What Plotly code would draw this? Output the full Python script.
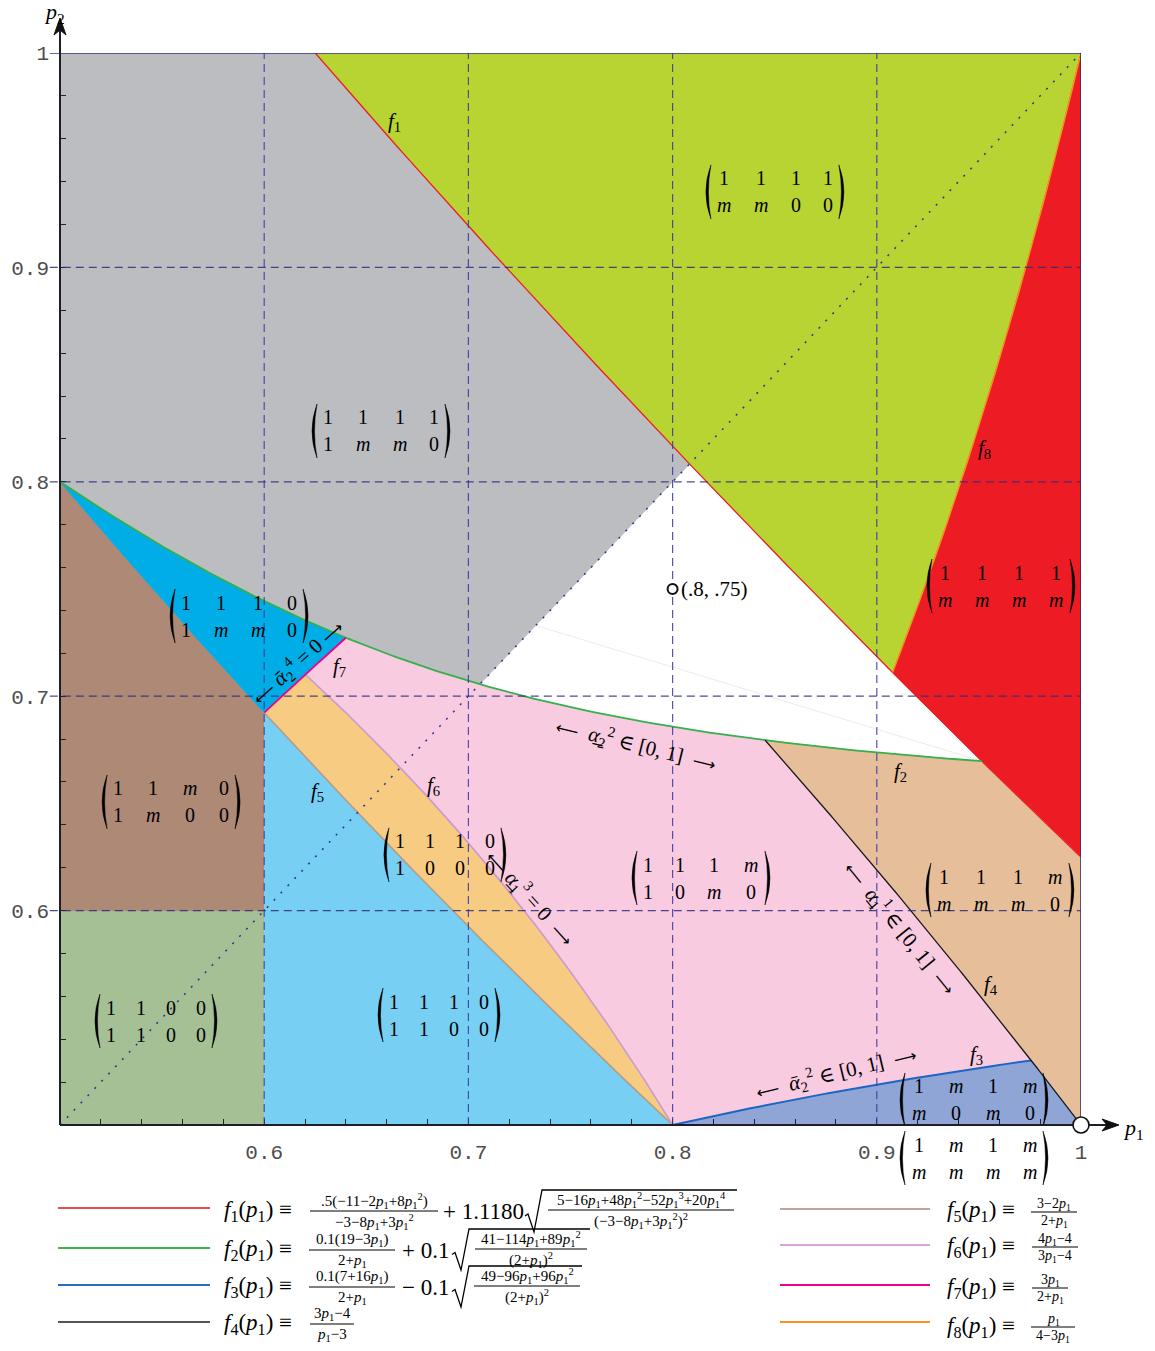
import numpy as np
import plotly.graph_objects as go

# ---------------------------------------------------------------- axes
X_RANGE = [0.5, 1.0]
Y_RANGE = [0.5, 1.0]
TICK_VALUES = [0.6, 0.7, 0.8, 0.9, 1.0]
TICK_TEXT = ["0.6", "0.7", "0.8", "0.9", "1"]
GRID_VALUES = [0.6, 0.7, 0.8, 0.9]
MINOR_STEP = 0.02

# ------------------------------------------- boundary formulas f1 .. f8
# coefficients in ascending powers of p1
F1_NUM = [-11, -2, 8]
F1_DEN = [-3, -8, 3]
F1_RAD = [5, -16, 48, -52, 20]
F1_K = [0.5, 1.1180]
F2_NUM = [19, -3]
F2_RAD = [41, -114, 89]
F2_K = [0.1, 0.1]
F3_NUM = [7, 16]
F3_RAD = [49, -96, 96]
F3_K = [0.1, -0.1]
F23_DEN = [2, 1]
F4_NUM, F4_DEN = [-4, 3], [-3, 1]
F5_NUM, F5_DEN = [3, -2], [2, 1]
F6_NUM, F6_DEN = [-4, 4], [-4, 3]
F7_NUM, F7_DEN = [0, 3], [2, 1]
F8_NUM, F8_DEN = [0, 1], [4, -3]

# ------------------------------------------------------- marked points
POINT_X = [0.8]
POINT_Y = [0.75]
POINT_LABEL = ["(.8, .75)"]
CORNER_X = [1.0]
CORNER_Y = [0.5]

# ------------------------------------------ strategy matrix per region
M_YELLOW = [["1", "1", "1", "1"], ["m", "m", "0", "0"]]
M_GRAY = [["1", "1", "1", "1"], ["1", "m", "m", "0"]]
M_RED = [["1", "1", "1", "1"], ["m", "m", "m", "m"]]
M_CYAN = [["1", "1", "1", "0"], ["1", "m", "m", "0"]]
M_BROWN = [["1", "1", "m", "0"], ["1", "m", "0", "0"]]
M_ORANGE = [["1", "1", "1", "0"], ["1", "0", "0", "0"]]
M_PINK = [["1", "1", "1", "m"], ["1", "0", "m", "0"]]
M_TAN = [["1", "1", "1", "m"], ["m", "m", "m", "0"]]
M_SAGE = [["1", "1", "0", "0"], ["1", "1", "0", "0"]]
M_LIGHTBLUE = [["1", "1", "1", "0"], ["1", "1", "0", "0"]]
M_BLUE = [["1", "m", "1", "m"], ["m", "0", "m", "0"]]
M_AXIS = [["1", "m", "1", "m"], ["m", "m", "m", "m"]]

SERIF = "Liberation Serif, DejaVu Serif, serif"
MONO = "Liberation Mono, DejaVu Sans Mono, monospace"

W, H = 1155, 1351
ML, MR, MT, MB = 60, 74, 53, 226
PLOT_L = ML
PLOT_B = H - MB


def poly(c, p):
    return sum(ci * p ** i for i, ci in enumerate(c))


def f1(p):
    d = poly(F1_DEN, p)
    return F1_K[0] * poly(F1_NUM, p) / d + F1_K[1] * np.sqrt(poly(F1_RAD, p) / d ** 2)


def f2(p):
    d = poly(F23_DEN, p)
    return F2_K[0] * poly(F2_NUM, p) / d + F2_K[1] * np.sqrt(poly(F2_RAD, p) / d ** 2)


def f3(p):
    d = poly(F23_DEN, p)
    return F3_K[0] * poly(F3_NUM, p) / d + F3_K[1] * np.sqrt(poly(F3_RAD, p) / d ** 2)


def ratio(num, den):
    return lambda p: poly(num, p) / poly(den, p)


f4 = ratio(F4_NUM, F4_DEN)
f5 = ratio(F5_NUM, F5_DEN)
f6 = ratio(F6_NUM, F6_DEN)
f7 = ratio(F7_NUM, F7_DEN)
f8 = ratio(F8_NUM, F8_DEN)


def root(g, a, b):
    ga = g(a)
    for _ in range(80):
        m = 0.5 * (a + b)
        gm = g(m)
        if (gm > 0) == (ga > 0):
            a, ga = m, gm
        else:
            b = m
    return 0.5 * (a + b)


def diag(p):
    return p


# crossing points of the boundaries
a1 = root(lambda p: f1(p) - 1.0, 0.6, 0.65)
x18 = root(lambda p: f1(p) - f8(p), 0.88, 0.93)
x12 = root(lambda p: f1(p) - f2(p), 0.93, 0.97)
d1 = root(lambda p: f1(p) - p, 0.78, 0.84)
d2 = root(lambda p: f2(p) - p, 0.68, 0.73)
x27 = root(lambda p: f2(p) - f7(p), 0.62, 0.66)
x67 = root(lambda p: f6(p) - f7(p), 0.60, 0.64)
x24 = root(lambda p: f2(p) - f4(p), 0.82, 0.88)
x34 = root(lambda p: f3(p) - f4(p), 0.95, 0.99)


def seg(f, a, b, n=80):
    xs = np.linspace(a, b, n)
    return xs, f(xs)


def pts(*pairs):
    return np.array([q[0] for q in pairs], float), np.array([q[1] for q in pairs], float)


def join(*parts):
    return np.concatenate([p[0] for p in parts]), np.concatenate([p[1] for p in parts])


regions = [
    ("#BCBDC0", join(pts((0.5, 1.0), (a1, 1.0)), seg(f1, a1, d1), seg(diag, d1, d2), seg(f2, d2, 0.5))),
    ("#B7D433", join(seg(f1, a1, x18), seg(f8, x18, 1.0), pts((a1, 1.0)))),
    ("#ED1C24", join(seg(f8, x18, 1.0), pts((1.0, float(f1(1.0)))), seg(f1, 1.0, x18))),
    ("#A5C095", pts((0.5, 0.5), (0.6, 0.5), (0.6, 0.6), (0.5, 0.6))),
    ("#AD8976", join(pts((0.5, 0.6), (0.6, 0.6)), seg(f5, 0.6, 0.5))),
    ("#00ADE6", join(seg(f5, 0.5, 0.6), seg(f7, 0.6, x27), seg(f2, x27, 0.5))),
    ("#77CFF3", join(pts((0.6, 0.5), (0.8, 0.5)), seg(f5, 0.8, 0.6))),
    ("#F7CB82", join(seg(f5, 0.6, 0.8), seg(f6, 0.8, x67), seg(f7, x67, 0.6))),
    ("#F8CBE0", join(seg(f6, x67, 0.8), seg(f3, 0.8, x34), seg(f4, x34, x24),
                     seg(f2, x24, x27), seg(f7, x27, x67))),
    ("#E6BF9A", join(seg(f4, x24, 1.0), pts((1.0, float(f1(1.0)))), seg(f1, 1.0, x12), seg(f2, x12, x24))),
    ("#8FA5D5", join(seg(f3, 0.8, x34), seg(f4, x34, 1.0), pts((0.8, 0.5)))),
]

curves = [
    (f1, a1, 1.0, "#ED1C24", 1.3),
    (f2, 0.5, x12, "#35B04A", 1.8),
    (f3, 0.8, x34, "#1F66C4", 2.0),
    (f4, x24, 1.0, "#1A1A1A", 1.3),
    (f5, 0.6, 0.8, "#B49B86", 1.6),
    (f6, x67, 0.8, "#C99AD0", 1.6),
    (f7, 0.6, x27, "#EC008C", 1.8),
    (f8, x18, 1.0, "#F7941D", 1.3),
]

fig = go.Figure()
for color, (xs, ys) in regions:
    fig.add_trace(go.Scatter(x=xs, y=ys, mode="lines", fill="toself", fillcolor=color,
                             line=dict(color=color, width=0.8), hoverinfo="skip"))

# faint seam across the unshaded triangle
fig.add_trace(go.Scatter(x=[0.733, x12], y=[0.733, float(f2(x12))], mode="lines",
                         line=dict(color="#E6E6E6", width=0.8), hoverinfo="skip"))

for f, a, b, color, width in curves:
    xs, ys = seg(f, a, b, 160)
    fig.add_trace(go.Scatter(x=xs, y=ys, mode="lines", line=dict(color=color, width=width),
                             hoverinfo="skip"))

shapes = []
annotations = []

# dashed grid above the shaded regions
for v in GRID_VALUES:
    shapes.append(dict(type="line", xref="x", yref="y", x0=v, x1=v, y0=Y_RANGE[0], y1=Y_RANGE[1],
                       line=dict(color="rgba(55,55,160,0.85)", width=1.2, dash="8px,5px")))
    shapes.append(dict(type="line", xref="paper", yref="y", x0=-0.01, x1=1.0, y0=v, y1=v,
                       line=dict(color="rgba(45,45,125,0.85)", width=1.2, dash="8px,5px")))

# diagonal p1 = p2
shapes.append(dict(type="line", xref="x", yref="y", x0=X_RANGE[0], y0=Y_RANGE[0], x1=X_RANGE[1], y1=Y_RANGE[1],
                   line=dict(color="#2E3192", width=1.5, dash="2px,8px")))

# frame on top and right
shapes.append(dict(type="line", xref="paper", yref="y", x0=-0.01, x1=1.0, y0=1.0, y1=1.0,
                   line=dict(color="#34348C", width=1.5)))
shapes.append(dict(type="line", xref="x", yref="y", x0=1.0, x1=1.0, y0=0.5, y1=1.0,
                   line=dict(color="#2C2C66", width=1.5)))


def px_shape_line(px0, py0, px1, py1, color, width):
    shapes.append(dict(type="line", xref="paper", yref="paper", xsizemode="pixel", ysizemode="pixel",
                       xanchor=0, yanchor=0, x0=px0 - PLOT_L, x1=px1 - PLOT_L,
                       y0=PLOT_B - py0, y1=PLOT_B - py1, line=dict(color=color, width=width)))


def px_path(points, color, width, fill=None, close=False):
    d = "M " + " L ".join(f"{px - PLOT_L:.2f},{PLOT_B - py:.2f}" for px, py in points)
    if close:
        d += " Z"
    shapes.append(dict(type="path", xref="paper", yref="paper", xsizemode="pixel", ysizemode="pixel",
                       xanchor=0, yanchor=0, path=d, line=dict(color=color, width=width),
                       fillcolor=fill if fill else "rgba(0,0,0,0)"))


def px_text(px, py, text, size, anchor="left", color="black", family=SERIF):
    annotations.append(dict(x=0, y=0, xref="paper", yref="paper", xshift=px - PLOT_L, yshift=PLOT_B - py,
                            text=text, showarrow=False, xanchor=anchor, yanchor="middle",
                            font=dict(family=family, size=size, color=color)))


def to_paper_x(v):
    return (v - X_RANGE[0]) / (X_RANGE[1] - X_RANGE[0])


def to_paper_y(v):
    return (v - Y_RANGE[0]) / (Y_RANGE[1] - Y_RANGE[0])


# axis lines with arrow heads
px_shape_line(60, 1125, 1112, 1125, "#1E1E2A", 2.2)
px_shape_line(60, 1125, 60, 24, "#1E1E2A", 2.0)
px_path([(1119, 1125), (1102, 1119), (1107, 1125), (1102, 1131)], "#111", 1, fill="#111", close=True)
px_path([(60, 18), (54, 35), (60, 30), (66, 35)], "#111", 1, fill="#111", close=True)
px_text(54, 13, "<i>p</i><sub>2</sub>", 22, anchor="center")
px_text(1133, 1129, "<i>p</i><sub>1</sub>", 22, anchor="center")


def text(x, y, s, size=20, angle=0, xanchor="center", xshift=0):
    annotations.append(dict(x=x, y=y, xref="x", yref="y", text=s, showarrow=False, textangle=angle,
                            xanchor=xanchor, yanchor="middle", xshift=xshift,
                            font=dict(family=SERIF, size=size, color="black")))


def matrix(x, y, rows, xref="x", yref="y", size=20):
    widths = [15 if any(r[c] == "m" for r in rows) else 10 for c in range(4)]
    gap = 22 if "m" in rows[0] + rows[1] else 20
    total = sum(widths) + 3 * gap
    pos = -total / 2
    centers = []
    for w_ in widths:
        centers.append(pos + w_ / 2)
        pos += w_ + gap
    for i, row in enumerate(rows):
        dy = 13.5 if i == 0 else -13.5
        for c, entry in enumerate(row):
            label = "<i>m</i>" if entry == "m" else entry
            annotations.append(dict(x=x, y=y, xref=xref, yref=yref, text=label, showarrow=False,
                                    xanchor="center", yanchor="middle", xshift=centers[c], yshift=dy,
                                    font=dict(family=SERIF, size=size, color="black")))
    half = total / 2 + 9
    for side in (-1, 1):
        xe = side * half
        tip = xe - side * 3
        outer = xe + side * 7
        inner = xe + side * 2
        path = (f"M {tip:.1f},27 Q {outer:.1f},0 {tip:.1f},-27 "
                f"Q {inner:.1f},0 {tip:.1f},27 Z")
        shapes.append(dict(type="path", xref=xref, yref=yref, xsizemode="pixel", ysizemode="pixel",
                           xanchor=x, yanchor=y, path=path, fillcolor="black",
                           line=dict(color="black", width=0.5)))


matrix(0.8501, 0.9352, M_YELLOW)
matrix(0.6572, 0.8237, M_GRAY)
matrix(0.9608, 0.7514, M_RED)
matrix(0.5877, 0.7374, M_CYAN)
matrix(0.5544, 0.6507, M_BROWN)
matrix(0.6885, 0.6260, M_ORANGE)
matrix(0.8139, 0.6152, M_PINK)
matrix(0.9603, 0.6096, M_TAN)
matrix(0.5470, 0.5485, M_SAGE)
matrix(0.6856, 0.5513, M_LIGHTBLUE)
matrix(0.9476, 0.5117, M_BLUE)
matrix((974 - PLOT_L) / (W - ML - MR), (PLOT_B - 1158) / (H - MT - MB), M_AXIS, xref="paper", yref="paper")

# curve names
for k, (x, y) in enumerate([(0.6640, 0.9678), (0.9118, 0.6647), (0.9490, 0.5327), (0.9559, 0.5653),
                            (0.6263, 0.6553), (0.6827, 0.6581), (0.6371, 0.7136), (0.9525, 0.8153)]):
    text(x, y, f"<i>f</i><sub>{k + 1}</sub>", 21)

# region boundary notes
AL_UP = "<i>α</i>\u0332"
AL_BAR = "<i>ᾱ</i>"
LA = '<span style="font-family:DejaVu Sans;font-size:16px">⟵</span>'
RA = '<span style="font-family:DejaVu Sans;font-size:16px">⟶</span>'
text(0.6165, 0.7160, f"{LA} {AL_BAR}<sub>2</sub><sup>4</sup> = 0 {RA}", 21, angle=-42)
text(0.7821, 0.6773, f"{LA}  {AL_UP}<sub>2</sub><sup>2</sup> ∈ [0, 1]  {RA}", 21, angle=13.7)
text(0.7302, 0.6059, f"{LA} {AL_UP}<sub>1</sub><sup>3</sup> = 0  {RA}", 21, angle=48)
text(0.9113, 0.5919, f"{LA}  {AL_UP}<sub>1</sub><sup>1</sup> ∈ [0, 1]  {RA}", 21, angle=51)
text(0.8800, 0.5247, f"{LA}  {AL_BAR}<sub>2</sub><sup>2</sup> ∈ [0, 1]  {RA}", 21, angle=-13.5)

# marked points
text(POINT_X[0], POINT_Y[0], POINT_LABEL[0], 21, xanchor="left", xshift=6)
for (cx, cy, r, lw) in [(POINT_X[0], POINT_Y[0], 5, 2.0), (CORNER_X[0], CORNER_Y[0], 8, 1.6)]:
    shapes.append(dict(type="circle", xref="paper", yref="paper", xsizemode="pixel", ysizemode="pixel",
                       xanchor=to_paper_x(cx), yanchor=to_paper_y(cy), x0=-r, x1=r, y0=-r, y1=r,
                       fillcolor="white", line=dict(color="#111", width=lw)))

# ------------------------------------------------------------- legend
P = "<i>p</i><sub>1</sub>"


def Pk(k):
    return f"<i>p</i><sub>1</sub><sup>{k}</sup>"


def frac(cx, ybar, num, den, width, size=15, gap=10):
    px_text(cx, ybar - gap, num, size, anchor="center")
    px_text(cx, ybar + gap + 1, den, size, anchor="center")
    px_shape_line(cx - width / 2, ybar, cx + width / 2, ybar, "black", 1.1)


def radical(x0, x1, ytop, ybot):
    ym = (ytop + ybot) / 2 + 5
    px_path([(x0, ym), (x0 + 3, ym - 2), (x0 + 9, ybot), (x0 + 17, ytop), (x1, ytop)], "black", 1.3)


def fname(px, py, k):
    px_text(px, py, f"<i>f</i><sub>{k}</sub>({P}) ≡", 23)


LEG_COLORS = ["#EE4B4B", "#3DB54A", "#2A6BC6", "#555555", "#BFA594", "#D9A3D9", "#EC008C", "#F7941D"]

# left column
for py, c in zip([1208, 1248, 1285, 1322], LEG_COLORS[:4]):
    px_shape_line(58, py, 210, py, c, 2)
fname(222, 1211, 1)
frac(374, 1211, f".5(−11−2{P}+8{Pk(2)})", f"−3−8{P}+3{Pk(2)}", 128)
px_text(441, 1211, "+ 1.1180", 23)
radical(525, 737, 1190, 1232)
frac(641, 1210, f"5−16{P}+48{Pk(2)}−52{Pk(3)}+20{Pk(4)}", f"(−3−8{P}+3{Pk(2)})<sup>2</sup>", 186)

fname(222, 1250, 2)
frac(352, 1250, f"0.1(19−3{P})", f"2+{P}", 86)
px_text(400, 1250, "+ 0.1", 23)
radical(452, 590, 1229, 1270)
frac(531, 1249, f"41−114{P}+89{Pk(2)}", f"(2+{P})<sup>2</sup>", 112)

fname(222, 1287, 3)
frac(352, 1287, f"0.1(7+16{P})", f"2+{P}", 86)
px_text(400, 1287, "− 0.1", 23)
radical(452, 582, 1266, 1307)
frac(527, 1286, f"49−96{P}+96{Pk(2)}", f"(2+{P})<sup>2</sup>", 106)

fname(222, 1324, 4)
frac(332, 1324, f"3{P}−4", f"{P}−3", 44)

# right column
for py, c in zip([1209, 1245, 1285, 1322], LEG_COLORS[4:]):
    px_shape_line(780, py, 930, py, c, 2)
fname(945, 1211, 5)
frac(1054, 1212, f"3−2{P}", f"2+{P}", 46, size=14, gap=8)
fname(945, 1247, 6)
frac(1055, 1247, f"4{P}−4", f"3{P}−4", 46, size=14, gap=8)
fname(945, 1288, 7)
frac(1050, 1288, f"3{P}", f"2+{P}", 36, size=14, gap=8)
fname(945, 1327, 8)
frac(1053, 1327, f"{P}", f"4−3{P}", 44, size=14, gap=8)

axis_common = dict(tickmode="array", tickvals=TICK_VALUES, ticktext=TICK_TEXT, ticks="inside",
                   ticklen=6, tickwidth=1.3, tickcolor="#222", showgrid=False, zeroline=False,
                   showline=False, fixedrange=True,
                   tickfont=dict(family=MONO, size=21, color="#4d4d4d"),
                   minor=dict(dtick=MINOR_STEP, tick0=0.5, ticks="inside", ticklen=6, tickwidth=1.3,
                              tickcolor="#222", showgrid=False))

fig.update_layout(
    width=W, height=H, margin=dict(l=ML, r=MR, t=MT, b=MB),
    paper_bgcolor="white", plot_bgcolor="white", showlegend=False,
    xaxis=dict(range=X_RANGE, ticklabelstandoff=12, **axis_common),
    yaxis=dict(range=Y_RANGE, ticklabelstandoff=10, **axis_common),
    shapes=shapes, annotations=annotations,
)

fig.write_html("out.html")
